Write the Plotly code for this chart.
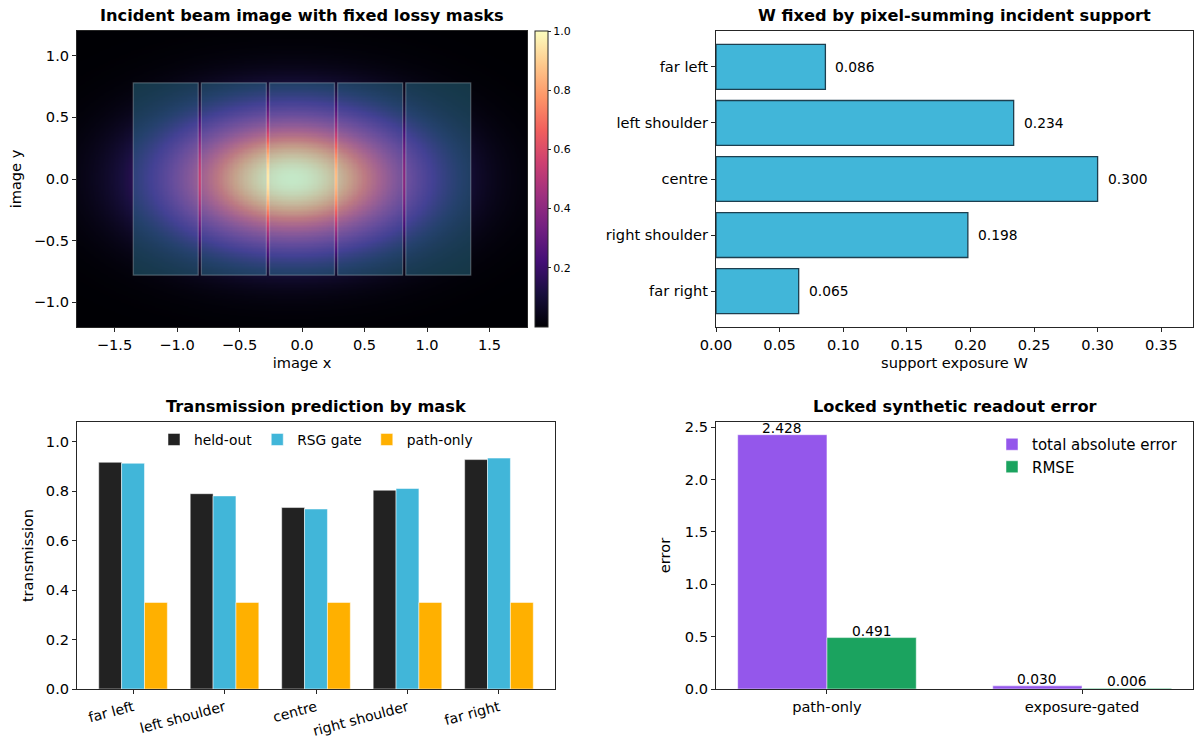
import numpy as np
import plotly.graph_objects as go

# ---------------- data ----------------
masks = ["far left", "left shoulder", "centre", "right shoulder", "far right"]
support_W = [0.086, 0.234, 0.300, 0.198, 0.065]

held_out = [0.917, 0.790, 0.734, 0.804, 0.928]
rsg_gate = [0.913, 0.781, 0.728, 0.811, 0.934]
path_only = [0.350, 0.350, 0.350, 0.350, 0.350]

methods = ["path-only", "exposure-gated"]
total_abs_error = [2.428, 0.030]
rmse = [0.491, 0.006]

# beam image parameters
beam_x0, beam_y0 = -0.08, 0.0
beam_sx, beam_sy = 0.65, 0.36
img_x_extent = [-1.8, 1.8]
img_y_extent = [-1.2, 1.2]

mask_centres = [-1.09, -0.545, 0.0, 0.545, 1.09]
mask_width = 0.52
mask_half_height = 0.78

# ---------------- styling ----------------
FONT = "DejaVu Sans"
FS = 14.6
C_DARK = "#222222"
C_BLUE = "#41b6d9"
C_ORANGE = "#ffb000"
C_PURPLE = "#9457eb"
C_GREEN = "#1ba35f"
AX = "#262626"

W, H = 1196, 738
def px_x(p): return p / W
def px_y(p): return 1 - p / H

dom_tl_x = [px_x(77), px_x(527)]
dom_tr_x = [px_x(716), px_x(1193)]
dom_bl_x = [px_x(77), px_x(555)]
dom_br_x = [px_x(716), px_x(1193)]
dom_top_y = [px_y(327), px_y(31)]
dom_bot_y = [px_y(689), px_y(422)]

fig = go.Figure()

# ---- beam image ----
gx = np.linspace(img_x_extent[0], img_x_extent[1], 360)
gy = np.linspace(img_y_extent[0], img_y_extent[1], 240)
XX, YY = np.meshgrid(gx, gy)
Z = np.exp(-((XX - beam_x0) ** 2) / (2 * beam_sx ** 2) - ((YY - beam_y0) ** 2) / (2 * beam_sy ** 2))
Z = Z / Z.max()

fig.add_trace(go.Heatmap(
    x=gx, y=gy, z=Z, colorscale="Magma", zmin=float(Z.min()), zmax=1.0,
    xaxis="x", yaxis="y", hoverinfo="skip",
    colorbar=dict(
        x=px_x(535), xanchor="left", xpad=0, thickness=13,
        len=(327 - 31) / H, lenmode="fraction", y=px_y(31), yanchor="top", ypad=0,
        tickvals=[0.2, 0.4, 0.6, 0.8, 1.0], ticktext=["0.2", "0.4", "0.6", "0.8", "1.0"],
        tickfont=dict(size=11, family=FONT, color="black"),
        ticks="outside", ticklen=3, tickcolor=AX, outlinewidth=1, outlinecolor=AX,
    ),
))

shapes = []
for c in mask_centres:
    shapes.append(dict(
        type="rect", xref="x", yref="y",
        x0=c - mask_width / 2, x1=c + mask_width / 2,
        y0=-mask_half_height, y1=mask_half_height,
        fillcolor="rgba(65,182,217,0.30)",
        line=dict(color="rgba(200,210,215,0.32)", width=1.3),
        layer="above",
    ))

# ---- support exposure W ----
fig.add_trace(go.Bar(
    y=masks, x=support_W, orientation="h", xaxis="x2", yaxis="y2",
    marker=dict(color=C_BLUE, line=dict(color="#1d3f4f", width=1.3)),
    width=0.8, showlegend=False, hoverinfo="skip",
))
annotations = []
for m, v in zip(masks, support_W):
    annotations.append(dict(
        x=v, y=m, xref="x2", yref="y2", text=f"{v:.3f}", showarrow=False,
        xanchor="left", xshift=8, font=dict(size=13.8, family=FONT, color="black"),
    ))

# ---- transmission grouped bars ----
for name, vals, col, off in [("held-out", held_out, C_DARK, -0.375),
                             ("RSG gate", rsg_gate, C_BLUE, -0.125),
                             ("path-only", path_only, C_ORANGE, 0.125)]:
    fig.add_trace(go.Bar(
        x=masks, y=vals, name=name, xaxis="x3", yaxis="y3",
        width=0.25, offset=off, marker=dict(color=col, line=dict(color="white", width=0.5)),
        legend="legend", hoverinfo="skip",
    ))

# ---- readout error ----
for name, vals, col, off in [("total absolute error", total_abs_error, C_PURPLE, -0.35),
                             ("RMSE", rmse, C_GREEN, 0.0)]:
    fig.add_trace(go.Bar(
        x=methods, y=vals, name=name, xaxis="x4", yaxis="y4",
        width=0.35, offset=off, marker=dict(color=col, line=dict(color="white", width=0.5)),
        legend="legend2", hoverinfo="skip",
    ))
    for i, v in enumerate(vals):
        annotations.append(dict(
            x=i + off + 0.175, y=v, xref="x4", yref="y4", text=f"{v:.3f}",
            showarrow=False, xanchor="center", yanchor="bottom", yshift=-3,
            font=dict(size=13.8, family=FONT, color="black"),
        ))

# ---- titles ----
def title(text, dom_x, top_px):
    return dict(text=f"<b>{text}</b>", x=(dom_x[0] + dom_x[1]) / 2, y=px_y(top_px - 4),
                xref="paper", yref="paper", xanchor="center", yanchor="bottom",
                showarrow=False, font=dict(size=16.2, family=FONT, color="black"))

annotations += [
    title("Incident beam image with fixed lossy masks", dom_tl_x, 31),
    title("W fixed by pixel-summing incident support", dom_tr_x, 31),
    title("Transmission prediction by mask", dom_bl_x, 422),
    title("Locked synthetic readout error", dom_br_x, 422),
]

def axis(**kw):
    base = dict(showline=True, linecolor=AX, linewidth=1, mirror=True, ticks="outside",
                ticklen=4, tickcolor=AX, showgrid=False, zeroline=False, automargin=False,
                tickfont=dict(size=FS, family=FONT, color="black"),
                title_font=dict(size=FS, family=FONT, color="black"))
    base.update(kw)
    return base

fig.update_layout(
    width=W, height=H, margin=dict(l=0, r=0, t=0, b=0, autoexpand=False),
    paper_bgcolor="white", plot_bgcolor="white",
    font=dict(family=FONT, color="black"),
    barmode="overlay",
    shapes=shapes, annotations=annotations,
    xaxis=axis(domain=dom_tl_x, anchor="y", range=img_x_extent,
               tickvals=[-1.5, -1.0, -0.5, 0.0, 0.5, 1.0, 1.5], tickformat=".1f",
               title=dict(text="image x", standoff=6)),
    yaxis=axis(domain=dom_top_y, anchor="x", range=img_y_extent,
               tickvals=[-1.0, -0.5, 0.0, 0.5, 1.0], tickformat=".1f",
               title=dict(text="image y", standoff=8)),
    xaxis2=axis(domain=dom_tr_x, anchor="y2", range=[0, 0.375],
                tickvals=[0, 0.05, 0.1, 0.15, 0.2, 0.25, 0.3, 0.35], tickformat=".2f",
                title=dict(text="support exposure W", standoff=6)),
    yaxis2=axis(domain=dom_top_y, anchor="x2", range=[4.64, -0.64], type="category"),
    xaxis3=axis(domain=dom_bl_x, anchor="y3", range=[-0.6125, 4.6125], type="category",
                tickangle=-15, tickfont=dict(size=14, family=FONT, color="black")),
    yaxis3=axis(domain=dom_bot_y, anchor="x3", range=[0, 1.08],
                tickvals=[0, 0.2, 0.4, 0.6, 0.8, 1.0], tickformat=".1f",
                title=dict(text="transmission", standoff=8)),
    xaxis4=axis(domain=dom_br_x, anchor="y4", range=[-0.435, 1.435], type="category"),
    yaxis4=axis(domain=dom_bot_y, anchor="x4", range=[0, 2.5494],
                tickvals=[0, 0.5, 1.0, 1.5, 2.0, 2.5], tickformat=".1f",
                title=dict(text="error", standoff=10)),
    legend=dict(orientation="h", x=(dom_bl_x[0] + dom_bl_x[1]) / 2, xanchor="center",
                y=px_y(424), yanchor="top", bgcolor="rgba(0,0,0,0)",
                font=dict(size=13.8, family=FONT, color="black"), itemwidth=30),
    legend2=dict(orientation="v", x=px_x(992), xanchor="left",
                 y=px_y(428), yanchor="top", bgcolor="rgba(0,0,0,0)",
                 font=dict(size=15, family=FONT, color="black"), itemwidth=30),
)

fig.write_html("out.html")
